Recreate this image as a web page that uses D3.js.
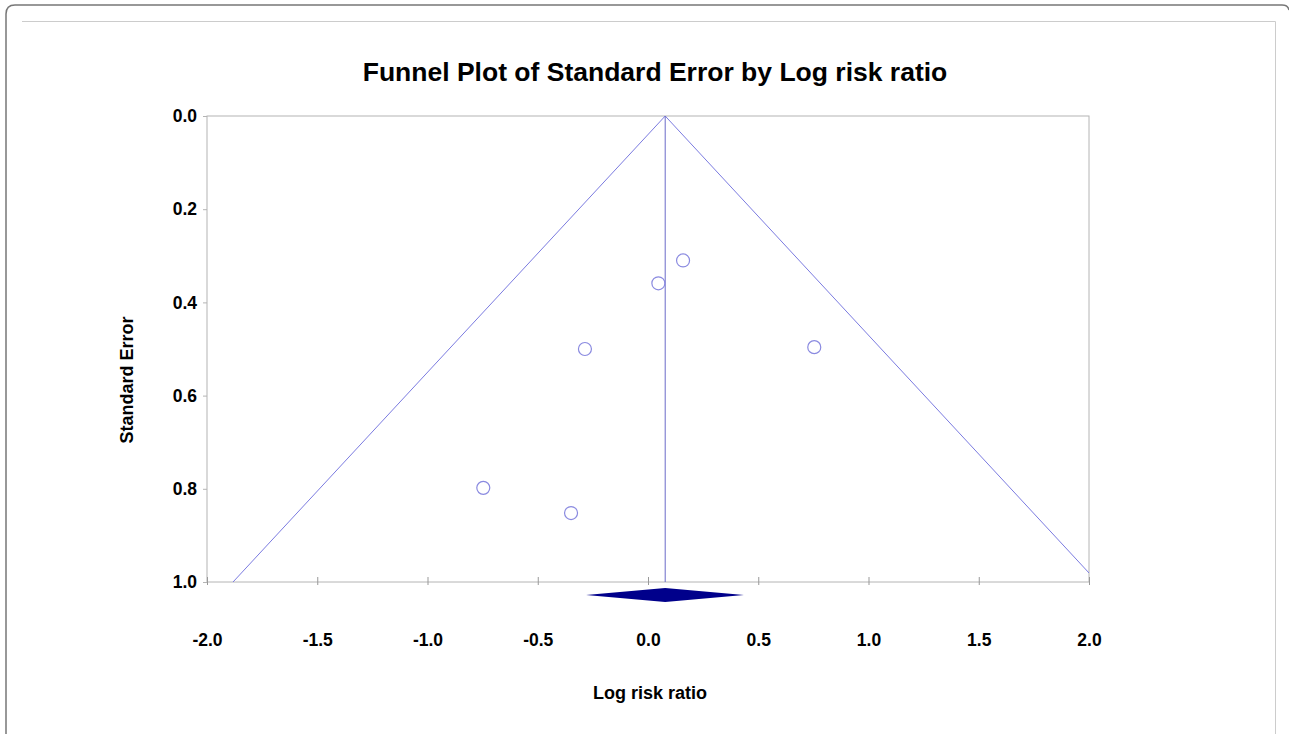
<!DOCTYPE html>
<html>
<head>
  <meta charset="utf-8">
  <title>Funnel Plot of Standard Error by Log risk ratio</title>
  <script src="https://d3js.org/d3.v7.min.js"></script>
  <style>
    body { margin: 0; background: #fff; }
    svg { display: block; font-family: "Liberation Sans", Arial, sans-serif; }
    .tick text { font-size: 17.5px; font-weight: bold; fill: #000; }
  </style>
</head>
<body>
<svg></svg>
<script>
  // study estimates
  const logRR = [0.159, 0.047, -0.286, 0.754, -0.747, -0.349];
  const stdErr = [0.310, 0.359, 0.500, 0.496, 0.798, 0.852];

  // pooled estimate and its CI (diamond)
  const pooled = 0.078;
  const pooledLow = -0.281;
  const pooledHigh = 0.435;

  const xTicks = [-2.0, -1.5, -1.0, -0.5, 0.0, 0.5, 1.0, 1.5, 2.0];
  const yTicks = [0.0, 0.2, 0.4, 0.6, 0.8, 1.0];

  const width = 1289, height = 734;
  const svg = d3.select("svg").attr("width", width).attr("height", height);

  // frame around the figure
  svg.append("path")
    .attr("d", "M6,734 L6,14 Q6,5 15,5 L1282,5 Q1288,5 1289,10")
    .attr("fill", "none").attr("stroke", "#777").attr("stroke-width", 1.5);
  svg.append("path")
    .attr("d", "M22,21.5 L1275.5,21.5 L1275.5,734")
    .attr("fill", "none").attr("stroke", "#ccc").attr("stroke-width", 1);

  const x = d3.scaleLinear().domain([-2, 2]).range([207, 1089]);
  const y = d3.scaleLinear().domain([0, 1]).range([116, 582]);

  const fmt = d => d3.format(".1f")(d).replace("−", "-");

  const g = svg.append("g");

  // plot box
  g.append("rect")
    .attr("x", x(-2)).attr("y", y(0))
    .attr("width", x(2) - x(-2)).attr("height", y(1) - y(0))
    .attr("fill", "none").attr("stroke", "#b4b4b4");

  // funnel lines, clipped to the plot area
  svg.append("clipPath").attr("id", "clip")
    .append("rect").attr("x", x(-2)).attr("y", y(0))
    .attr("width", x(2) - x(-2)).attr("height", y(1) - y(0));

  const plot = g.append("g").attr("clip-path", "url(#clip)");
  const line = d3.line().x(d => x(d[0])).y(d => y(d[1]));
  plot.append("path")
    .attr("d", line([[pooled - 1.96, 1], [pooled, 0], [pooled + 1.96, 1]]))
    .attr("fill", "none").attr("stroke", "#7b7be0").attr("stroke-width", 1);
  plot.append("path")
    .attr("d", line([[pooled, 0], [pooled, 1]]))
    .attr("fill", "none").attr("stroke", "#6a6ac8").attr("stroke-width", 1);

  // axes
  const xAxis = d3.axisBottom(x).tickValues(xTicks).tickFormat(fmt)
    .tickSizeInner(0).tickSizeOuter(0).tickPadding(52);
  const xg = g.append("g").attr("transform", `translate(0,${y(1)})`).call(xAxis);
  xg.select(".domain").remove();
  xg.selectAll(".tick").append("line")
    .attr("y1", -5).attr("y2", 3).attr("stroke", "#999");

  const yAxis = d3.axisLeft(y).tickValues(yTicks).tickFormat(fmt)
    .tickSizeInner(4).tickSizeOuter(0).tickPadding(6);
  const yg = g.append("g").attr("transform", `translate(${x(-2)},0)`).call(yAxis);
  yg.select(".domain").remove();
  yg.selectAll(".tick line").attr("stroke", "#b4b4b4");

  // study points
  g.selectAll("circle.study")
    .data(logRR)
    .join("circle")
    .attr("class", "study")
    .attr("cx", d => x(d))
    .attr("cy", (d, i) => y(stdErr[i]))
    .attr("r", 6.5)
    .attr("fill", "none")
    .attr("stroke", "#8a8ae0")
    .attr("stroke-width", 1.2);

  // pooled diamond
  const dy = 595;
  g.append("path")
    .attr("d", `M${x(pooledLow)},${dy} L${x(pooled)},${dy - 7} L${x(pooledHigh)},${dy} L${x(pooled)},${dy + 7} Z`)
    .attr("fill", "#00008b");

  // titles
  svg.append("text")
    .attr("x", 655).attr("y", 81)
    .attr("text-anchor", "middle")
    .style("font-size", "26.5px").style("font-weight", "bold")
    .text("Funnel Plot of Standard Error by Log risk ratio");

  svg.append("text")
    .attr("x", 650).attr("y", 699)
    .attr("text-anchor", "middle")
    .style("font-size", "18px").style("font-weight", "bold")
    .text("Log risk ratio");

  svg.append("text")
    .attr("transform", "translate(133,380) rotate(-90)")
    .attr("text-anchor", "middle")
    .style("font-size", "18px").style("font-weight", "bold")
    .text("Standard Error");
</script>
</body>
</html>
